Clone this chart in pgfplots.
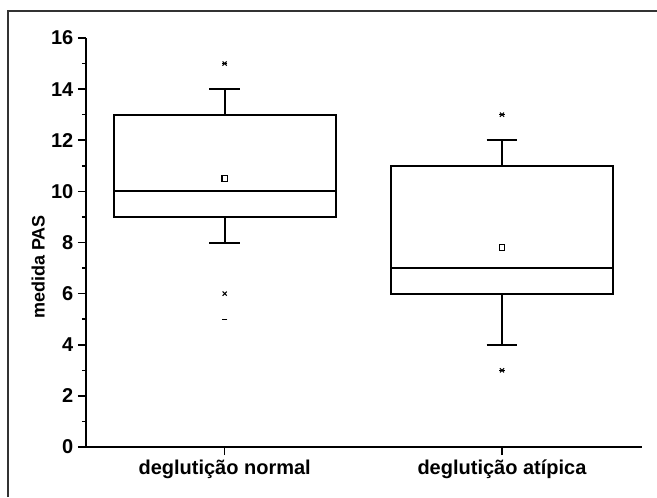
\documentclass[border=0pt]{standalone}
\usepackage{pgfplots}
\pgfplotsset{compat=1.18}
\usepgfplotslibrary{statistics}
\usepackage{fontspec}
\setmainfont{Liberation Sans}

\begin{document}
\begin{tikzpicture}
% moldura externa (so esquerda e topo aparecem)
\draw[line width=1pt,color=black!80] (6pt,0pt) -- (6pt,364.5pt) -- (492.75pt,364.5pt);

\begin{axis}[
    at={(64.5pt,37.5pt)}, anchor=south west,
    scale only axis,
    width=417pt, height=306.75pt,
    axis lines=left,
    axis line style={-, line width=1.3pt},
    xmin=0.5, xmax=2.505,
    ymin=0, ymax=16,
    xtick={1,2},
    xticklabels={deglutição normal, deglutição atípica},
    ytick={0,2,...,16},
    minor y tick num=1,
    tick align=outside,
    major tick length=6pt,
    minor tick length=3pt,
    tick style={line width=1.2pt, black},
    ticklabel style={font=\fontsize{15}{17}\selectfont\bfseries},
    /pgf/number format/assume math mode=true,
    ylabel={medida PAS},
    ylabel style={font=\fontsize{13.5}{16}\selectfont\bfseries,
        at={(axis description cs:-0.086,0.44)}, anchor=center},
    boxplot/draw direction=y,
    clip=false,
]

% deglutição normal (pontos = percentis 1%/99%)
\addplot[black, solid, line width=1.5pt, mark=x, mark size=2.2pt,
    mark options={black, line width=0.8pt},
    boxplot prepared={
    draw position=1, box extend=0.8, whisker extend=0.11,
    lower whisker=8, lower quartile=9, median=10,
    upper quartile=13, upper whisker=14}]
    table[row sep=\\, y index=0] {15\\ 6\\};

% deglutição atípica
\addplot[black, solid, line width=1.5pt, mark=x, mark size=2.2pt,
    mark options={black, line width=0.8pt},
    boxplot prepared={
    draw position=2, box extend=0.8, whisker extend=0.11,
    lower whisker=4, lower quartile=6, median=7,
    upper quartile=11, upper whisker=12}]
    table[row sep=\\, y index=0] {13\\ 3\\};

% médias
\addplot[only marks, mark=square, mark size=2pt, black, line width=0.8pt]
    coordinates {(1,10.5) (2,7.8)};

% mínimo / máximo
\addplot[only marks, mark=-, mark size=2pt, black, line width=0.8pt]
    coordinates {(1,15) (1,5) (2,13) (2,3)};

\end{axis}
\pgfresetboundingbox
\useasboundingbox (0pt,0pt) rectangle (492.75pt,372.75pt);
\end{tikzpicture}
\end{document}
